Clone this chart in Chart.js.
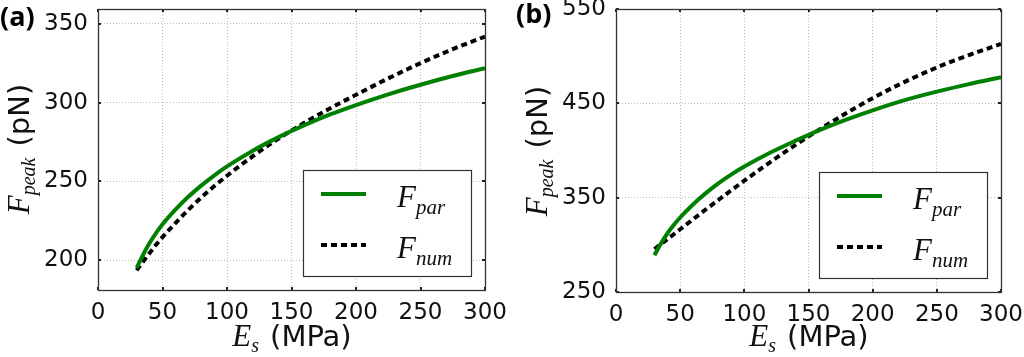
<!DOCTYPE html>
<html>
<head>
<meta charset="utf-8">
<script src="https://cdn.jsdelivr.net/npm/chart.js@4/dist/chart.umd.min.js"></script>
<style>
  html,body{margin:0;padding:0;background:#fff;}
  body{width:1024px;height:357px;position:relative;overflow:hidden;}
  canvas{position:absolute;top:0;}
  .lbl{position:absolute;font-family:"Open Sans",sans-serif;font-weight:700;font-size:27px;line-height:27px;color:#000;}
  .title{position:absolute;white-space:nowrap;font-family:"DejaVu Sans",sans-serif;font-size:29px;line-height:32px;color:#111;}
  .m{font-family:"Liberation Serif",serif;font-style:italic;font-size:31px;margin-right:11px;}
  .m sub{font-size:20px;vertical-align:-6px;line-height:0;}
  .ytitle{transform:translate(-50%,-50%) rotate(-90deg);}
  .xtitle{transform:translateX(-50%);}
  .leg{position:absolute;white-space:nowrap;font-family:"Liberation Serif",serif;font-style:italic;font-size:31px;line-height:31px;color:#111;}
  .leg sub{font-size:21px;vertical-align:-7px;line-height:0;}
</style>
</head>
<body>
<canvas id="ca" width="512" height="357" style="left:0"></canvas>
<canvas id="cb" width="512" height="357" style="left:512px"></canvas>

<div class="lbl" style="left:0;top:2px">(a)</div>
<div class="lbl" style="left:516px;top:-1px">(b)</div>

<div class="title ytitle" style="left:19px;top:149px"><span class="m">F<sub>peak</sub></span>(pN)</div>
<div class="title ytitle" style="left:537px;top:151px"><span class="m">F<sub>peak</sub></span>(pN)</div>

<div class="title xtitle" style="left:292px;top:320px"><span class="m">E<sub>s</sub></span>(MPa)</div>
<div class="title xtitle" style="left:809px;top:320px"><span class="m">E<sub>s</sub></span>(MPa)</div>

<div class="leg" style="left:397px;top:181px">F<sub>par</sub></div>
<div class="leg" style="left:397px;top:232px">F<sub>num</sub></div>
<div class="leg" style="left:913px;top:183px">F<sub>par</sub></div>
<div class="leg" style="left:913px;top:234px">F<sub>num</sub></div>

<script>
// ---- data ----
const Es = [30, 35, 40, 45, 50, 60, 70, 80, 90, 100, 120, 140, 160, 180, 200, 225, 250, 275, 300];
// panel (a)
const parA = [195, 203.5, 210.8, 217.1, 222.7, 232, 240.2, 247.3, 253.7, 259.5, 269.5, 278.1, 285.7, 292.5, 298.5, 305.3, 311.4, 316.9, 321.9];
const numA = [193.5, 199.1, 204.5, 209.7, 214.6, 223.5, 231.9, 239.7, 246.9, 253.6, 266, 277.2, 287.2, 296.4, 305, 315.4, 325.1, 334, 342];
// panel (b)
const parB = [289, 301.5, 312, 321, 329, 342.8, 354.8, 365.4, 374.7, 383, 397.6, 410.4, 422.4, 433, 442.6, 453.4, 462.4, 470.4, 477.6];
const numB = [295.5, 300.8, 306, 311.2, 316.5, 327, 337.5, 347.8, 358, 368, 387.5, 406, 423.5, 440, 455.5, 472.8, 488, 501.2, 513];
// tick labels
const xTicks = [0, 50, 100, 150, 200, 250, 300];
const yTicksA = [200, 250, 300, 350];
const yTicksB = [250, 350, 450, 550];
const seriesNames = ['F_par', 'F_num'];

Chart.defaults.font.family = '"DejaVu Sans", sans-serif';
Chart.defaults.font.size = 23;
Chart.defaults.color = '#111';

const frameTicks = {
  id: 'frameTicks',
  afterDraw(chart) {
    const {ctx, chartArea: a, scales} = chart;
    ctx.save();
    ctx.strokeStyle = '#222';
    ctx.lineWidth = 2;
    const tl = 3;
    scales.x.ticks.forEach(t => {
      const px = Math.round(scales.x.getPixelForValue(t.value));
      ctx.beginPath();
      ctx.moveTo(px, a.bottom); ctx.lineTo(px, a.bottom - tl);
      ctx.moveTo(px, a.top); ctx.lineTo(px, a.top + tl);
      ctx.stroke();
    });
    scales.y.ticks.forEach(t => {
      const py = Math.round(scales.y.getPixelForValue(t.value));
      ctx.beginPath();
      ctx.moveTo(a.left, py); ctx.lineTo(a.left + tl, py);
      ctx.moveTo(a.right, py); ctx.lineTo(a.right - tl, py);
      ctx.stroke();
    });
    ctx.strokeStyle = '#333';
    ctx.lineWidth = 1.3;
    ctx.strokeRect(Math.round(a.left) + 0.5, Math.round(a.top) + 0.5,
                   Math.round(a.right - a.left), Math.round(a.bottom - a.top));
    // legend box + line samples
    const bw = 168, bh = 106;
    const bx = Math.round(a.right - 14 - bw), by = Math.round(a.bottom - 14 - bh);
    ctx.fillStyle = '#fff';
    ctx.fillRect(bx, by, bw, bh);
    ctx.strokeStyle = '#333';
    ctx.lineWidth = 1.2;
    ctx.strokeRect(bx + 0.5, by + 0.5, bw, bh);
    chart.data.datasets.forEach((ds, i) => {
      const y = by + (i === 0 ? 24 : 75);
      ctx.beginPath();
      ctx.strokeStyle = ds.borderColor;
      ctx.lineWidth = ds.borderWidth;
      ctx.setLineDash(ds.borderDash || []);
      ctx.moveTo(bx + 18, y); ctx.lineTo(bx + 63, y);
      ctx.stroke();
    });
    ctx.restore();
  }
};

function makeChart(id, par, num, yMin, yMax, yTicks, yWidth, padRight, xHeight) {
  const pts = arr => Es.map((e, i) => ({x: e, y: arr[i]}));
  return new Chart(document.getElementById(id), {
    type: 'line',
    data: {
      datasets: [
        {label: seriesNames[0], data: pts(par), borderColor: '#008000', borderWidth: 4,
         pointRadius: 0, cubicInterpolationMode: 'monotone', fill: false},
        {label: seriesNames[1], data: pts(num), borderColor: '#000', borderWidth: 4,
         borderDash: [6, 4], borderCapStyle: 'butt', pointRadius: 0,
         cubicInterpolationMode: 'monotone', fill: false}
      ]
    },
    options: {
      responsive: false,
      animation: false,
      devicePixelRatio: 1,
      layout: {padding: {left: 0, right: padRight, top: 9, bottom: 0}},
      plugins: {legend: {display: false}, tooltip: {enabled: false}},
      scales: {
        x: {
          type: 'linear', min: 0, max: 300,
          afterBuildTicks: s => { s.ticks = xTicks.map(v => ({value: v})); },
          afterFit: s => { s.height = xHeight; s.paddingLeft = 0; s.paddingRight = 0; },
          grid: {color: '#bdbdbd', lineWidth: 1, drawTicks: false},
          border: {display: false, dash: [1, 2]},
          ticks: {padding: 9, maxRotation: 0, autoSkip: false}
        },
        y: {
          type: 'linear', min: yMin, max: yMax,
          afterBuildTicks: s => { s.ticks = yTicks.map(v => ({value: v})); },
          afterFit: s => { s.width = yWidth; s.paddingTop = 0; s.paddingBottom = 0; },
          grid: {color: '#bdbdbd', lineWidth: 1, drawTicks: false},
          border: {display: false, dash: [1, 2]},
          ticks: {padding: 10, autoSkip: false}
        }
      }
    },
    plugins: [frameTicks]
  });
}

makeChart('ca', parA, numA, 181, 359.5, yTicksA, 98, 27, 67);
makeChart('cb', parB, numB, 250, 550, yTicksB, 104, 23, 65);
</script>
</body>
</html>
